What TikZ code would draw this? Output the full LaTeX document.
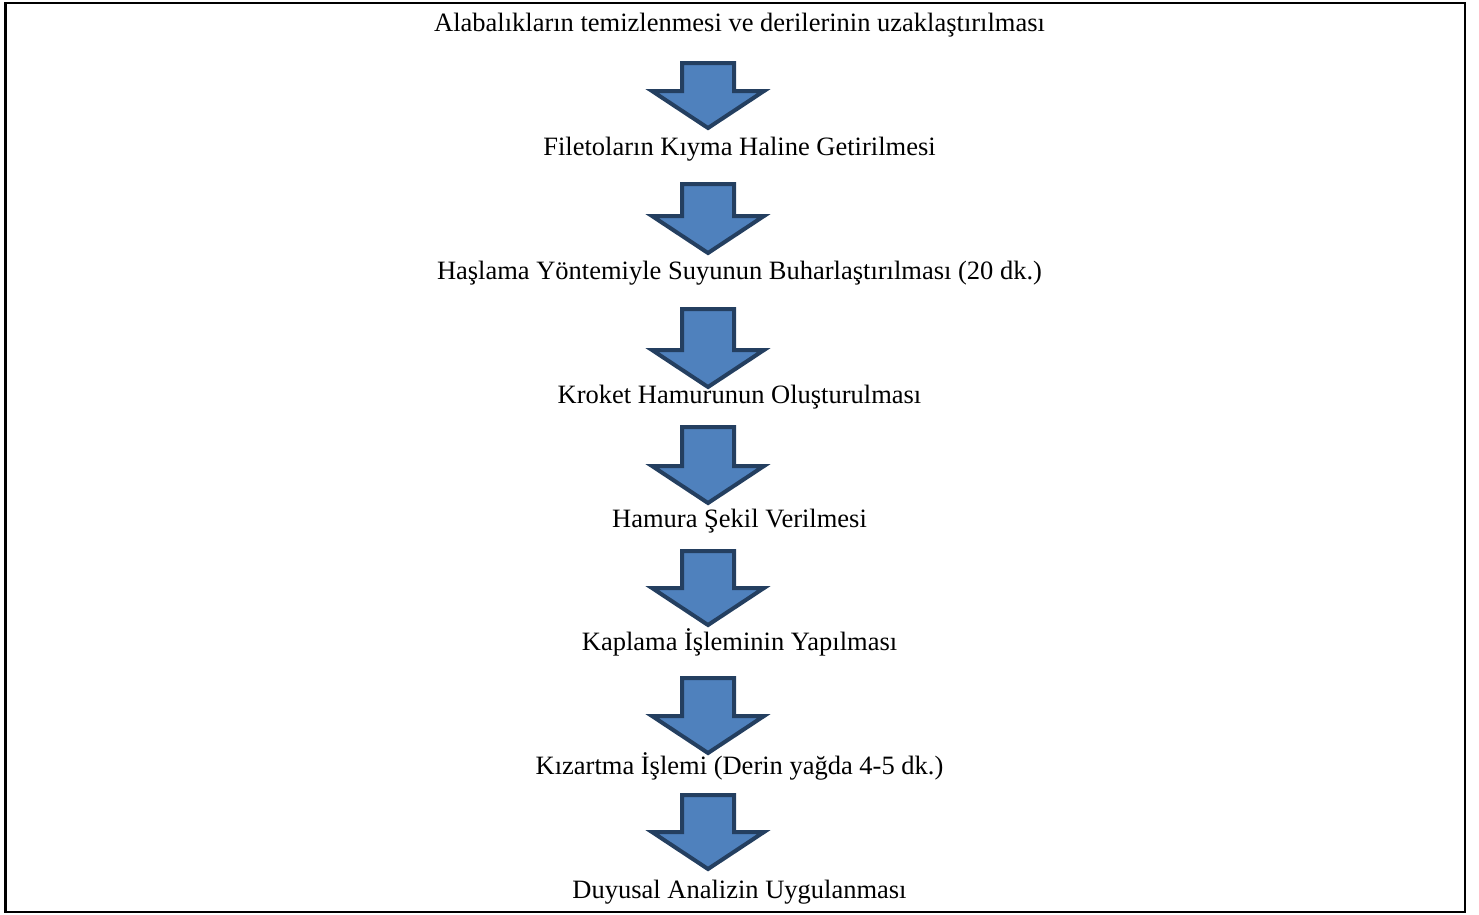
\documentclass[tikz,border=0pt]{standalone}
\usepackage{fontspec}
\setmainfont{Liberation Serif}
\definecolor{arrowfill}{HTML}{4F81BD}
\definecolor{arrowline}{HTML}{243F60}
\begin{document}
\begin{tikzpicture}[x=1pt,y=-1pt,
  stepnode/.style={anchor=base, inner sep=0pt, font=\fontsize{26.5}{30}\selectfont},
  blockarrow/.style={draw=arrowline, fill=arrowfill, line width=4pt}]
\useasboundingbox (0,0) rectangle (1479,914);
\draw[line width=2.5pt] (5.3,3) rectangle (1465,912);
\node[stepnode] (s0) at (739.5,31){Alabalıkların temizlenmesi ve derilerinin uzaklaştırılması};
\node[stepnode] (s1) at (739.5,155){Filetoların Kıyma Haline Getirilmesi};
\node[stepnode] (s2) at (739.5,279){Haşlama Yöntemiyle Suyunun Buharlaştırılması (20 dk.)};
\node[stepnode] (s3) at (739.5,403){Kroket Hamurunun Oluşturulması};
\node[stepnode] (s4) at (739.5,527){Hamura Şekil Verilmesi};
\node[stepnode] (s5) at (739.5,650){Kaplama İşleminin Yapılması};
\node[stepnode] (s6) at (739.5,774){Kızartma İşlemi (Derin yağda 4-5 dk.)};
\node[stepnode] (s7) at (739.5,898){Duyusal Analizin Uygulanması};
% block arrows: top of shaft / tip
\foreach \top/\tip in {63/128, 184/253, 309/387, 427/503, 551/625, 678/753, 795/869}
  \draw[blockarrow] (682,\top) -- (734,\top) -- (734,\tip-37) -- (764,\tip-37)
    -- (708,\tip) -- (652,\tip-37) -- (682,\tip-37) -- cycle;
\end{tikzpicture}
\end{document}
